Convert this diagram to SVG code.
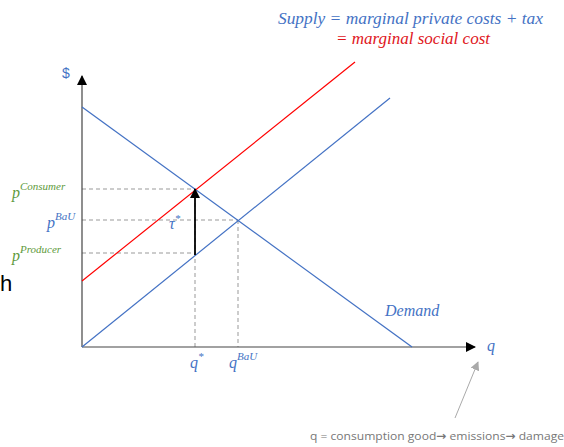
<svg xmlns="http://www.w3.org/2000/svg" width="564" height="447" viewBox="0 0 564 447">
<style>
.m{font-family:"Liberation Serif","DejaVu Serif",serif;font-style:italic;font-size:16px}
.b{fill:#4472C4}.g{fill:#5E9A3C}.r{fill:#E0161C}
.sup{font-size:11px}
.dash{stroke:#999;stroke-width:1;stroke-dasharray:4,3;fill:none}
</style>
<defs>
<marker id="ah" viewBox="0 0 10 10" refX="9" refY="5" markerWidth="10" markerHeight="10" markerUnits="userSpaceOnUse" orient="auto"><path d="M0,0L10,5L0,10z" fill="#000"/></marker>
<marker id="ag" viewBox="0 0 10 10" refX="9" refY="5" markerWidth="9" markerHeight="9" markerUnits="userSpaceOnUse" orient="auto"><path d="M0,0L10,5L0,10z" fill="#aaa"/></marker>
</defs>
<rect width="564" height="447" fill="#fff"/>
<g id="connectors">
<line class="dash" x1="82" y1="189" x2="195" y2="189"/>
<line class="dash" x1="82" y1="220" x2="238" y2="220"/>
<line class="dash" x1="82" y1="253" x2="195" y2="253"/>
<line class="dash" x1="195" y1="189" x2="195" y2="347"/>
<line class="dash" x1="238" y1="220" x2="238" y2="347"/>
<line x1="82" y1="347" x2="82" y2="76" stroke="#444" stroke-width="1.2" marker-end="url(#ah)"/>
<line x1="82" y1="347" x2="475" y2="347" stroke="#444" stroke-width="1.2" marker-end="url(#ah)"/>
<line id="demand" x1="82" y1="107" x2="412" y2="347" stroke="#4472C4" stroke-width="1.2"/>
<line id="supply" x1="82" y1="347" x2="390" y2="98" stroke="#4472C4" stroke-width="1.2"/>
<line id="msc" x1="82" y1="281" x2="355" y2="62" stroke="#FF0000" stroke-width="1.2"/>
<line x1="195" y1="255" x2="195" y2="189" stroke="#000" stroke-width="1.8" marker-end="url(#ah)"/>
<line x1="455" y1="418" x2="478" y2="362" stroke="#aaa" stroke-width="1" marker-end="url(#ag)"/>
</g>
<g id="title">
<text class="m b" x="278" y="24" textLength="265" lengthAdjust="spacingAndGlyphs">Supply = marginal private costs + tax</text>
<text class="m r" x="336" y="44" textLength="154" lengthAdjust="spacingAndGlyphs">= marginal social cost</text>
</g>
<g id="labels">
<text x="62" y="78" font-family="Liberation Sans,sans-serif" font-size="14" fill="#4472C4">$</text>
<text class="m g" x="12" y="198">p<tspan class="sup" dy="-8">Consumer</tspan></text>
<text class="m b" x="47" y="228">p<tspan class="sup" dy="-8">BaU</tspan></text>
<text class="m g" x="12" y="261">p<tspan class="sup" dy="-8">Producer</tspan></text>
<text class="m b" x="169" y="229">τ<tspan class="sup" dy="-7">*</tspan></text>
<text class="m b" x="190" y="368">q<tspan class="sup" dy="-8">*</tspan></text>
<text class="m b" x="229" y="368">q<tspan class="sup" dy="-8">BaU</tspan></text>
<text class="m b" x="385" y="316">Demand</text>
<text class="m b" x="487" y="351">q</text>
<text x="0" y="291" font-family="Liberation Sans,sans-serif" font-size="22" fill="#000">h</text>
<text x="310" y="440" font-family="Open Sans,Liberation Sans,sans-serif" font-size="11.5" fill="#777" textLength="254" lengthAdjust="spacingAndGlyphs">q = consumption good<tspan font-family="DejaVu Sans,sans-serif" font-weight="bold">→</tspan> emissions<tspan font-family="DejaVu Sans,sans-serif" font-weight="bold">→</tspan> damage</text>
</g>
</svg>
